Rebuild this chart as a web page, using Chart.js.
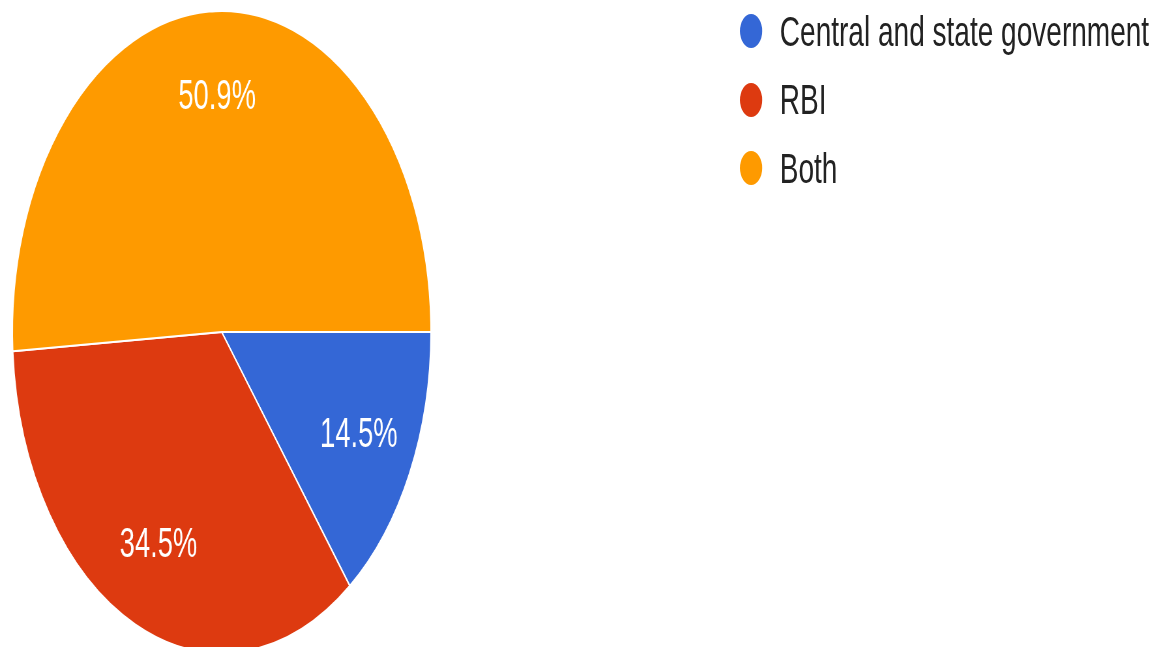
<!DOCTYPE html>
<html>
<head>
<meta charset="utf-8">
<script src="https://cdn.jsdelivr.net/npm/chart.js@4.4.1/dist/chart.umd.min.js"></script>
<style>
  html, body { margin: 0; padding: 0; background: #fff; overflow: hidden; }
  /* whole figure is squeezed horizontally, so draw wide and scale X */
  #stage {
    position: absolute; left: 0; top: 0;
    width: 1775px; height: 647px;
    transform: scaleX(0.652); transform-origin: 0 0;
    overflow: hidden;
  }
  #pieBox { position: absolute; left: 0; top: 0; width: 680px; height: 654px; }
  #legend {
    position: absolute; left: 1135px; top: -3px;
    font-family: "Liberation Sans", Arial, sans-serif; font-size: 43px; color: #222;
  }
  .lg-row { height: 68.5px; display: flex; align-items: center; white-space: nowrap; }
  .lg-dot { width: 34px; height: 34px; border-radius: 50%; margin-right: 27px; flex: none; }
</style>
</head>
<body>
<div id="stage">
  <div id="pieBox"><canvas id="pie"></canvas></div>
  <div id="legend"></div>
</div>
<script>
var labels = ['Central and state government', 'RBI', 'Both'];
var shares = [14.5, 34.5, 50.9];
var colors = ['#3467d6', '#dd3a10', '#fe9a00'];

// legend rows (dot + name) built from the same arrays
var legendEl = document.getElementById('legend');
labels.forEach(function (name, i) {
  var row = document.createElement('div');
  row.className = 'lg-row';
  var dot = document.createElement('span');
  dot.className = 'lg-dot';
  dot.style.background = colors[i];
  var txt = document.createElement('span');
  txt.textContent = name;
  row.appendChild(dot);
  row.appendChild(txt);
  legendEl.appendChild(row);
});

// percentage text inside each slice
var sliceText = {
  id: 'sliceText',
  afterDatasetsDraw: function (chart) {
    var ctx = chart.ctx;
    var arcs = chart.getDatasetMeta(0).data;
    ctx.save();
    ctx.fillStyle = '#fff';
    ctx.font = '42px "Liberation Sans", Arial, sans-serif';
    ctx.textAlign = 'center';
    ctx.textBaseline = 'middle';
    arcs.forEach(function (arc, i) {
      var mid = (arc.startAngle + arc.endAngle) / 2;
      var r = arc.outerRadius * 0.73;
      ctx.fillText(shares[i].toFixed(1) + '%', arc.x + Math.cos(mid) * r, arc.y + Math.sin(mid) * r);
    });
    ctx.restore();
  }
};

new Chart(document.getElementById('pie'), {
  type: 'pie',
  data: {
    labels: labels,
    datasets: [{
      data: shares,
      backgroundColor: colors,
      borderColor: '#fff',
      borderWidth: 2
    }]
  },
  options: {
    responsive: true,
    maintainAspectRatio: false,
    animation: false,
    rotation: 90,
    layout: { padding: { top: 10 } },
    plugins: { legend: { display: false }, tooltip: { enabled: false } }
  },
  plugins: [sliceText]
});
</script>
</body>
</html>
